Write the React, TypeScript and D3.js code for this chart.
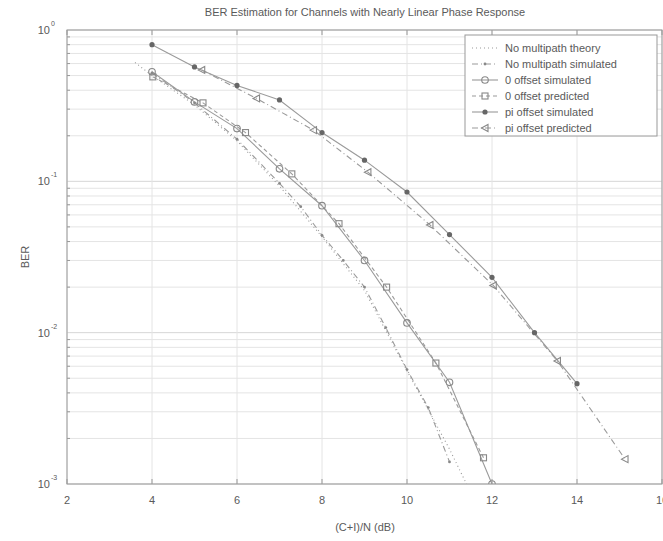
import React from 'react';
import * as d3 from 'd3';

// x ticks and y decades
const xTicks = [2, 4, 6, 8, 10, 12, 14, 16];
const yDecades = [0, -1, -2, -3];

// No multipath theory (dotted)
const theoryX = [3.6, 4, 5, 6, 7, 8, 9, 10, 10.5, 11, 11.4];
const theoryY = [0.61, 0.5, 0.32, 0.185, 0.093, 0.043, 0.019, 0.0056, 0.0031, 0.0017, 0.001];

// No multipath simulated
const nmSimX = [4, 5, 6, 7, 7.5, 8, 8.5, 9, 9.5, 10, 10.5, 11];
const nmSimY = [0.52, 0.33, 0.19, 0.097, 0.068, 0.044, 0.03, 0.02, 0.0108, 0.0057, 0.0032, 0.0014];

// 0 offset
const zSimX = [4, 5, 6, 7, 8, 9, 10, 11, 12];
const zSimY = [0.53, 0.335, 0.223, 0.121, 0.069, 0.03, 0.0116, 0.0047, 0.001];
const zPredX = [4.02, 5.2, 6.2, 7.29, 8.4, 9.52, 10.68, 11.8];
const zPredY = [0.49, 0.33, 0.21, 0.112, 0.0525, 0.02, 0.0063, 0.00149];

// pi offset
const piSimX = [4, 5, 6, 7, 8, 9, 10, 11, 12, 13, 14];
const piSimY = [0.8, 0.57, 0.43, 0.345, 0.21, 0.138, 0.085, 0.0445, 0.0232, 0.01, 0.0046];
const piPredX = [5.17, 6.46, 7.8, 9.08, 10.54, 12.03, 13.54, 15.13];
const piPredY = [0.545, 0.353, 0.218, 0.115, 0.0515, 0.0205, 0.0065, 0.00146];

const W = 663;
const H = 541;
const left = 67;
const right = 662;
const top = 30;
const bottom = 484;

const lineCol = '#9a9a9a';
const markCol = '#888';
const textCol = '#5a5a5a';

type Series = {
  name: string;
  xs: number[];
  ys: number[];
  dash: string;
  marker: 'none' | 'dot' | 'circle' | 'square' | 'filled' | 'tri';
};

const series: Series[] = [
  { name: 'No multipath theory', xs: theoryX, ys: theoryY, dash: '1,3', marker: 'none' },
  { name: 'No multipath simulated', xs: nmSimX, ys: nmSimY, dash: '6,3,1,3', marker: 'dot' },
  { name: '0 offset simulated', xs: zSimX, ys: zSimY, dash: '', marker: 'circle' },
  { name: '0 offset predicted', xs: zPredX, ys: zPredY, dash: '4,3', marker: 'square' },
  { name: 'pi offset simulated', xs: piSimX, ys: piSimY, dash: '', marker: 'filled' },
  { name: 'pi offset predicted', xs: piPredX, ys: piPredY, dash: '6,3,1,3', marker: 'tri' },
];

const Marker = ({ kind, x, y }: { kind: Series['marker']; x: number; y: number }) => {
  if (kind === 'dot') return <circle cx={x} cy={y} r={1.4} fill={markCol} />;
  if (kind === 'circle')
    return <circle cx={x} cy={y} r={3.3} fill="none" stroke={markCol} strokeWidth={1.1} />;
  if (kind === 'square')
    return <rect x={x - 3} y={y - 3} width={6} height={6} fill="none" stroke={markCol} strokeWidth={1.1} />;
  if (kind === 'filled') return <circle cx={x} cy={y} r={2.6} fill="#666" />;
  if (kind === 'tri')
    return (
      <path
        d={`M${x - 3.5},${y} L${x + 3},${y - 3.5} L${x + 3},${y + 3.5} Z`}
        fill="none"
        stroke={markCol}
        strokeWidth={1.1}
      />
    );
  return null;
};

const App = () => {
  const x = d3.scaleLinear().domain([2, 16]).range([left, right]);
  const y = d3.scaleLog().domain([1e-3, 1]).range([bottom, top]);

  const line = d3
    .line<[number, number]>()
    .x((d) => x(d[0]))
    .y((d) => y(d[1]));

  // minor grid values 2..9 per decade
  const minor: number[] = [];
  [-3, -2, -1].forEach((e) => {
    for (let k = 2; k <= 9; k++) minor.push(k * Math.pow(10, e));
  });

  const legX = 465;
  const legY = 35;
  const legW = 192;
  const legH = 101;

  return (
    <div style={{ position: 'absolute', left: 0, top: 0 }}>
      <svg width={W} height={H} style={{ display: 'block', background: '#fff' }} fontFamily="Liberation Sans, Arial, sans-serif">
        <defs>
          <clipPath id="plot">
            <rect x={left} y={top} width={right - left} height={bottom - top} />
          </clipPath>
        </defs>
        <rect width={W} height={H} fill="#fff" />

        {/* grid */}
        {minor.map((v, i) => (
          <line key={'m' + i} x1={left} x2={right} y1={y(v)} y2={y(v)} stroke="#e4e4e4" strokeWidth={1} />
        ))}
        {yDecades.map((e) => (
          <line key={'d' + e} x1={left} x2={right} y1={y(Math.pow(10, e))} y2={y(Math.pow(10, e))} stroke="#d6d6d6" />
        ))}
        {xTicks.map((t) => (
          <line key={'gx' + t} x1={x(t)} x2={x(t)} y1={top} y2={bottom} stroke="#e4e4e4" />
        ))}

        {/* series */}
        <g clipPath="url(#plot)">
          {series.map((s) => (
            <path
              key={s.name}
              d={line(s.xs.map((v, i) => [v, s.ys[i]] as [number, number])) || ''}
              fill="none"
              stroke={lineCol}
              strokeWidth={1.1}
              strokeDasharray={s.dash}
            />
          ))}
          {series.map((s) =>
            s.xs.map((v, i) => <Marker key={s.name + i} kind={s.marker} x={x(v)} y={y(s.ys[i])} />)
          )}
        </g>

        {/* axes box */}
        <rect x={left} y={top} width={right - left} height={bottom - top} fill="none" stroke="#999" strokeWidth={1} />
        {xTicks.map((t) => (
          <g key={'tx' + t}>
            <line x1={x(t)} x2={x(t)} y1={bottom} y2={bottom - 5} stroke="#999" />
            <line x1={x(t)} x2={x(t)} y1={top} y2={top + 5} stroke="#999" />
            <text x={x(t)} y={bottom + 20} textAnchor="middle" fontSize={11} fill={textCol}>
              {t}
            </text>
          </g>
        ))}
        {yDecades.map((e) => (
          <g key={'ty' + e}>
            <text x={50} y={y(Math.pow(10, e)) + 4} textAnchor="end" fontSize={11} fill={textCol}>
              10
            </text>
            <text x={51} y={y(Math.pow(10, e)) - 4} fontSize={7} fill={textCol}>
              {e}
            </text>
          </g>
        ))}
        {minor.map((v, i) => (
          <line key={'mt' + i} x1={left} x2={left + 3} y1={y(v)} y2={y(v)} stroke="#999" />
        ))}

        {/* labels */}
        <text x={365} y={16} textAnchor="middle" fontSize={11} fill={textCol}>
          BER Estimation for Channels with Nearly Linear Phase Response
        </text>
        <text x={365} y={531} textAnchor="middle" fontSize={11} fill={textCol}>
          (C+I)/N (dB)
        </text>
        <text transform="translate(29,257) rotate(-90)" textAnchor="middle" fontSize={11} fill={textCol}>
          BER
        </text>

        {/* legend */}
        <rect x={legX} y={legY} width={legW} height={legH} fill="#fff" stroke="#999" />
        {series.map((s, i) => {
          const ly = legY + 13 + i * 16;
          return (
            <g key={'lg' + i}>
              <line x1={legX + 7} x2={legX + 33} y1={ly} y2={ly} stroke={lineCol} strokeWidth={1.1} strokeDasharray={s.dash} />
              <Marker kind={s.marker} x={legX + 20} y={ly} />
              <text x={legX + 40} y={ly + 4} fontSize={11} fill={textCol}>
                {s.name}
              </text>
            </g>
          );
        })}
      </svg>
    </div>
  );
};

export default App;
